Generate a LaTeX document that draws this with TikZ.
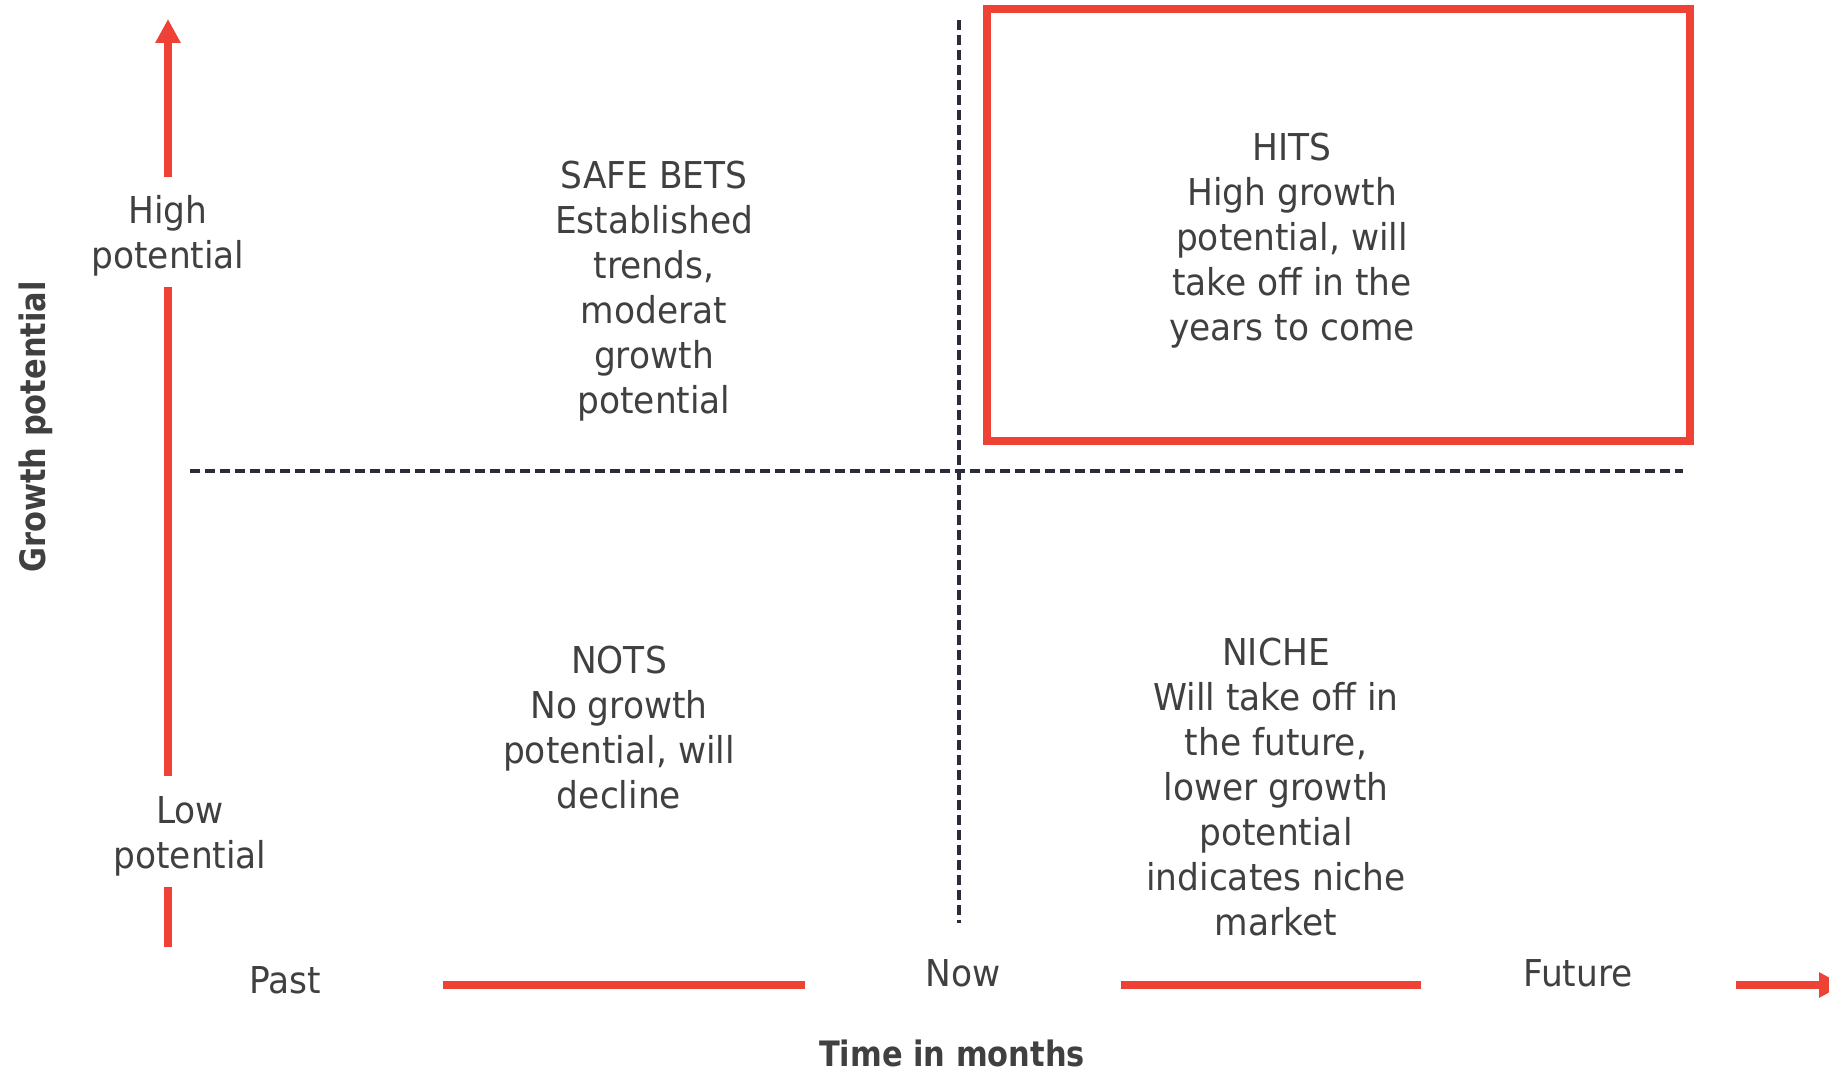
\documentclass[tikz,border=0pt]{standalone}
\usepackage{fontspec}
\setmainfont{DejaVu Sans}[FakeStretch=0.93]
\newfontfamily\titlefont{DejaVu Sans}[FakeStretch=0.87]
\usetikzlibrary{arrows.meta}
\definecolor{txtgray}{HTML}{404040}
\definecolor{axred}{HTML}{EE4236}
\definecolor{divnavy}{HTML}{2A2C3A}
\tikzset{
  lbl/.style={text=txtgray, font=\fontsize{37}{45}\selectfont, align=center, inner sep=0pt, anchor=base},
  axtitle/.style={text=txtgray, font=\titlefont\fontsize{35}{42}\selectfont\bfseries, inner sep=0pt, anchor=base},
  axisline/.style={draw=axred, line width=8pt},
  axisarrow/.style={axisline, -{Triangle[length=24pt, width=24pt]}},
  divider/.style={draw=divnavy, line width=3.5pt, dash pattern=on 10pt off 5pt},
  hitbox/.style={draw=axred, line width=8pt},
}
\begin{document}
\begin{tikzpicture}[x=1pt, y=-1pt]
\useasboundingbox[fill=white] (0,0) rectangle (1829,1073);

% quadrant dividers
\coordinate (vtop) at (959,20);
\coordinate (vbot) at (959,923);
\coordinate (hleft) at (190,471);
\coordinate (hright) at (1683,471);
\draw[divider] (vtop) -- (vbot);
\draw[divider] (hleft) -- (hright);

% HITS box
\node[hitbox, minimum width=703pt, minimum height=432pt, inner sep=0pt] (hitsbox) at (1338.5,225) {};

% vertical axis
\node[lbl] (high) at (168,268) {High\\potential};
\node[lbl] (low) at (190,868) {Low\\potential};
\coordinate (ytip) at (168,19);
\coordinate (y1s) at (168,177);
\coordinate (y2a) at (168,287);
\coordinate (y2b) at (168,776);
\coordinate (y3a) at (168,887);
\coordinate (y3b) at (168,947);
\draw[axisarrow] (y1s) -- (ytip);
\draw[axisline] (y2a) -- (y2b);
\draw[axisline] (y3a) -- (y3b);

% horizontal axis
\node[lbl] (past) at (285,993) {Past};
\node[lbl] (now) at (963,986) {Now};
\node[lbl] (future) at (1578,986) {Future};
\coordinate (x1a) at (443,985);
\coordinate (x1b) at (805,985);
\coordinate (x2a) at (1121,985);
\coordinate (x2b) at (1421,985);
\coordinate (x3a) at (1736,985);
\coordinate (xtip) at (1843,985);
\draw[axisline] (x1a) -- (x1b);
\draw[axisline] (x2a) -- (x2b);
\draw[axisarrow] (x3a) -- (xtip);

% axis titles
\node[axtitle] (xtitle) at (952,1066) {Time in months};
\node[axtitle, rotate=90] (ytitle) at (45,427) {Growth potential};

% quadrant texts
\node[lbl] (safe) at (654,413) {SAFE BETS\\Established\\trends,\\moderat\\growth\\potential};
\node[lbl] (hits) at (1292,340) {HITS\\High growth\\potential, will\\take off in the\\years to come};
\node[lbl] (nots) at (619,808) {NOTS\\No growth\\potential, will\\decline};
\node[lbl] (niche) at (1276,935) {NICHE\\Will take off in\\the future,\\lower growth\\potential\\indicates niche\\market};
\end{tikzpicture}
\end{document}
